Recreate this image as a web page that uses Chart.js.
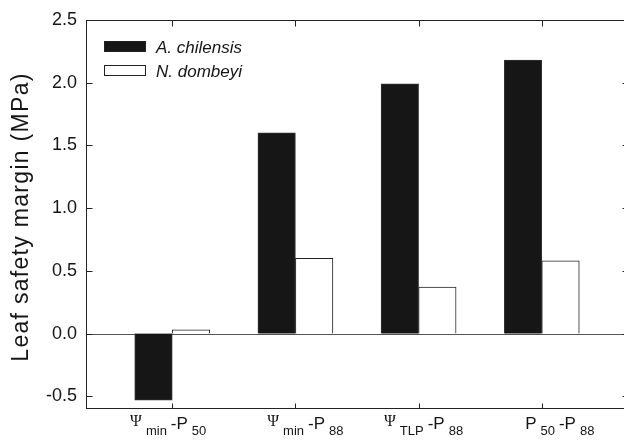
<!DOCTYPE html>
<html>
<head>
<meta charset="utf-8">
<script src="https://cdn.jsdelivr.net/npm/chart.js@4/dist/chart.umd.min.js"></script>
<style>
  html, body { margin: 0; padding: 0; background: #fff; overflow: hidden; }
  #wrap { width: 632px; height: 440px; }
</style>
</head>
<body>
<div id="wrap"><canvas id="chart" width="632" height="440"></canvas></div>
<script>
// label parts: main, subscript, main, subscript
const categories = [
  ['Ψ', 'min', '-P', '50'],
  ['Ψ', 'min', '-P', '88'],
  ['Ψ', 'TLP', '-P', '88'],
  ['P', '50', '-P', '88']
];
const seriesNames = ['A. chilensis', 'N. dombeyi'];
const chilensis = [-0.53, 1.60, 1.99, 2.18];
const dombeyi = [0.03, 0.60, 0.37, 0.58];
const yTicks = [-0.5, 0.0, 0.5, 1.0, 1.5, 2.0, 2.5];
const yTitle = 'Leaf safety margin (MPa)';

// small horizontal nudges of the category labels (px)
const labelShift = [-4, 10, 5, 18];

const SANS = '"Liberation Sans", Arial, sans-serif';
const INK = '#151515';

const toPoints = vals => vals.map((v, i) => ({ x: i, y: v }));

const decor = {
  id: 'decor',
  beforeDatasetsDraw(chart) {
    const { ctx, chartArea: a, scales: { y } } = chart;
    const y0 = Math.round(y.getPixelForValue(0)) + 0.5;
    ctx.save();
    ctx.strokeStyle = '#555';
    ctx.lineWidth = 1;
    ctx.beginPath();
    ctx.moveTo(a.left, y0);
    ctx.lineTo(a.right, y0);
    ctx.stroke();
    ctx.restore();
  },
  afterDraw(chart) {
    const { ctx, chartArea: a, scales: { x, y } } = chart;
    ctx.save();
    ctx.strokeStyle = '#222';
    ctx.lineWidth = 1;
    const L = Math.round(a.left) + 0.5, R = Math.round(a.right) + 0.5;
    const T = Math.round(a.top) + 0.5, B = Math.round(a.bottom) + 0.5;
    ctx.strokeRect(L, T, R - L, B - T);

    // inward ticks
    ctx.beginPath();
    yTicks.forEach(v => {
      const py = Math.round(y.getPixelForValue(v)) + 0.5;
      ctx.moveTo(L, py); ctx.lineTo(L + 6, py);
      ctx.moveTo(R, py); ctx.lineTo(R - 6, py);
    });
    categories.forEach((c, i) => {
      const px = Math.round(x.getPixelForValue(i)) + 0.5;
      ctx.moveTo(px, B); ctx.lineTo(px, B - 5);
      ctx.moveTo(px, T); ctx.lineTo(px, T + 6);
    });
    ctx.stroke();

    // category labels with subscripts
    ctx.fillStyle = INK;
    ctx.textBaseline = 'alphabetic';
    ctx.textAlign = 'left';
    const fonts = {
      psi: '16px "Liberation Serif", serif',
      main: '17px ' + SANS,
      sub: '13px ' + SANS
    };
    categories.forEach((parts, i) => {
      const pieces = parts.map((t, k) => {
        const kind = k % 2 ? 'sub' : (t === 'Ψ' ? 'psi' : 'main');
        ctx.font = fonts[kind];
        return { t, kind, w: ctx.measureText(t).width };
      });
      const gaps = [0, 4, 4, 4];
      let total = 0;
      pieces.forEach((p, k) => total += p.w + gaps[k]);
      let cx = x.getPixelForValue(i) - total / 2 + labelShift[i];
      pieces.forEach((p, k) => {
        cx += gaps[k];
        ctx.font = fonts[p.kind];
        const base = p.kind === 'sub' ? 435 : (p.kind === 'psi' ? 426 : 428.5);
        ctx.fillText(p.t, cx, base);
        cx += p.w;
      });
    });

    // legend
    const ds = chart.data.datasets;
    ds.forEach((d, i) => {
      const ry = 41 + i * 24;
      ctx.fillStyle = d.backgroundColor;
      ctx.fillRect(104, ry, 42, 11);
      ctx.strokeStyle = '#222';
      ctx.strokeRect(104.5, ry + 0.5, 41, 10);
      ctx.fillStyle = INK;
      ctx.font = 'italic 17px ' + SANS;
      ctx.fillText(d.label, 156, ry + 11.5);
    });

    // y title
    ctx.translate(22, 217);
    ctx.rotate(-Math.PI / 2);
    ctx.font = '23px ' + SANS;
    ctx.letterSpacing = '1.3px';
    ctx.textAlign = 'center';
    ctx.textBaseline = 'middle';
    ctx.fillStyle = INK;
    ctx.fillText(yTitle, 0, 0);
    ctx.restore();
  }
};

new Chart(document.getElementById('chart'), {
  type: 'bar',
  data: {
    datasets: [
      {
        label: seriesNames[0],
        data: toPoints(chilensis),
        backgroundColor: '#161616',
        borderColor: '#333',
        borderWidth: 1,
        barThickness: 37.5
      },
      {
        label: seriesNames[1],
        data: toPoints(dombeyi),
        backgroundColor: '#ffffff',
        borderColor: '#222',
        borderWidth: 1,
        barThickness: 37.5
      }
    ]
  },
  options: {
    responsive: false,
    animation: false,
    devicePixelRatio: 1,
    layout: { padding: { top: 16, right: 4, left: 0, bottom: 0 } },
    plugins: { legend: { display: false }, tooltip: { enabled: false } },
    scales: {
      x: {
        type: 'linear',
        min: -0.7,
        max: 3.7,
        offset: false,
        afterBuildTicks: s => { s.ticks = categories.map((c, i) => ({ value: i })); },
        ticks: { display: false },
        grid: { display: false, drawTicks: false },
        border: { display: false },
        afterFit: s => { s.height = 32; }
      },
      y: {
        min: -0.593,
        max: 2.5,
        afterBuildTicks: s => { s.ticks = yTicks.map(v => ({ value: v })); },
        ticks: {
          font: { family: SANS, size: 18 },
          color: INK,
          padding: 9,
          callback: v => v.toFixed(1)
        },
        grid: { display: false, drawTicks: false },
        border: { display: false },
        afterFit: s => { s.width = 86; }
      }
    }
  },
  plugins: [decor]
});
</script>
</body>
</html>
